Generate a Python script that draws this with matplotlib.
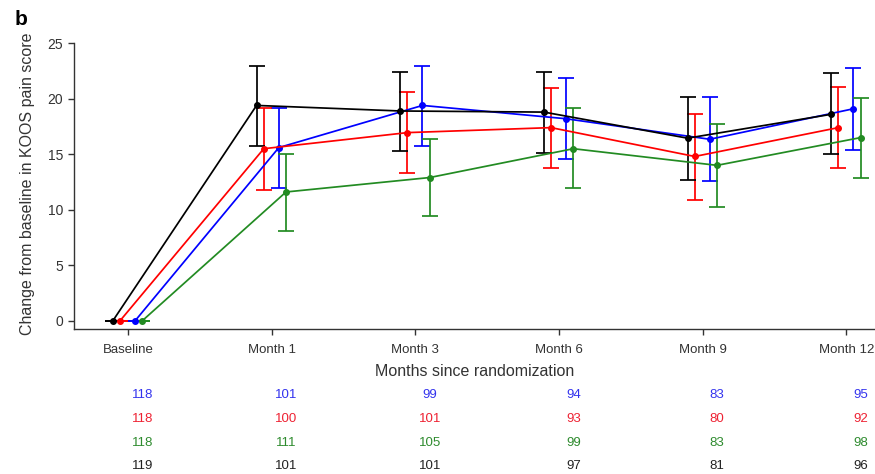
import matplotlib
matplotlib.use("Agg")
import matplotlib.pyplot as plt
import matplotlib.transforms as mtransforms
import numpy as np

plt.rcParams['font.family'] = ['Liberation Sans', 'DejaVu Sans']

# ---- data ----
timepoints = ["Baseline", "Month 1", "Month 3", "Month 6", "Month 9", "Month 12"]

blue_mean = [0, 15.6, 19.4, 18.2, 16.35, 19.1]
blue_lo = [0, 12.0, 15.7, 14.6, 12.6, 15.4]
blue_hi = [0, 19.2, 22.95, 21.9, 20.2, 22.8]

red_mean = [0, 15.5, 16.95, 17.4, 14.8, 17.4]
red_lo = [0, 11.8, 13.3, 13.75, 10.9, 13.75]
red_hi = [0, 19.2, 20.6, 21.0, 18.6, 21.1]

green_mean = [0, 11.6, 12.9, 15.5, 14.0, 16.5]
green_lo = [0, 8.1, 9.4, 12.0, 10.25, 12.9]
green_hi = [0, 15.05, 16.4, 19.15, 17.7, 20.05]

black_mean = [0, 19.4, 18.9, 18.8, 16.45, 18.6]
black_lo = [0, 15.75, 15.25, 15.15, 12.7, 15.0]
black_hi = [0, 22.95, 22.4, 22.4, 20.2, 22.3]

n_blue = [118, 101, 99, 94, 83, 95]
n_red = [118, 100, 101, 93, 80, 92]
n_green = [118, 111, 105, 99, 83, 98]
n_black = [119, 101, 101, 97, 81, 96]

# ---- figure ----
W, H = 875, 474
fig = plt.figure(figsize=(W / 100, H / 100), dpi=100)
ax_left, ax_right = 74 / W, 1.0
ax_top, ax_bottom = 1 - 43.3 / H, 1 - 329 / H
ax = fig.add_axes([ax_left, ax_bottom, ax_right - ax_left, ax_top - ax_bottom])

x = np.arange(len(timepoints))
series = [
    ("#0000ff", 0.05, blue_mean, blue_lo, blue_hi),
    ("#ff0000", -0.055, red_mean, red_lo, red_hi),
    ("#228b22", 0.10, green_mean, green_lo, green_hi),
    ("#000000", -0.105, black_mean, black_lo, black_hi),
]
for color, off, m, lo, hi in series:
    m = np.array(m, float)
    yerr = np.vstack([m - np.array(lo, float), np.array(hi, float) - m])
    ax.errorbar(x + off, m, yerr=yerr, color=color, lw=1.25, elinewidth=1.25,
                capsize=5.5, capthick=1.25, marker='o', markersize=4)

ax.set_xlim(-0.376, 5.20)
ax.set_ylim(-0.75, 25)
ax.set_xticks(x)
ax.set_xticklabels(timepoints)
ax.set_yticks([0, 5, 10, 15, 20, 25])

for s in ["top", "right"]:
    ax.spines[s].set_visible(False)
for s in ["left", "bottom"]:
    ax.spines[s].set_color("#333333")
    ax.spines[s].set_linewidth(1.0)
ax.tick_params(axis='x', length=4, width=1, color="#333333", labelsize=9.5,
               labelcolor="#333333", pad=7)
ax.tick_params(axis='y', length=4.5, width=1, color="#333333", labelsize=10,
               labelcolor="#333333", pad=3.5)

ax.set_xlabel("Months since randomization", fontsize=11.5, color="#333333")
ax.xaxis.set_label_coords(0.5, (329 - 371.7) / 285.7)
ax.xaxis.label.set_va('center')
ax.set_ylabel("Change from baseline in KOOS pain score", fontsize=11.5, color="#333333")
ax.yaxis.set_label_coords((28 - 74) / 801, 0.51)
ax.yaxis.label.set_va('center')

# numbers at risk
trans = mtransforms.blended_transform_factory(ax.transData, fig.transFigure)
rows = [(n_blue, "#3333ee", 395), (n_red, "#ee2233", 419.3),
        (n_green, "#2e8b2e", 442.7), (n_black, "#222222", 466)]
for vals, col, ypx in rows:
    for xi, v in zip(x, vals):
        ax.text(xi + 0.10, 1 - ypx / H, str(v), transform=trans, ha='center',
                va='center', fontsize=9.5, color=col)

fig.text(15 / W, 1 - 25 / H, "b", fontsize=15, fontweight='bold', ha='left',
         va='baseline')

fig.savefig("out.png", dpi=100)
